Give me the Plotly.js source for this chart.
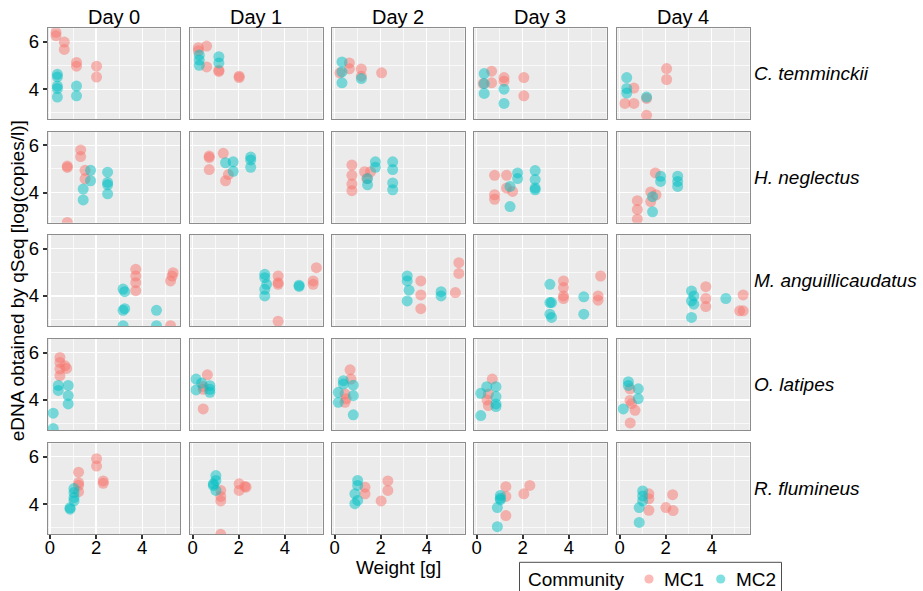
<!DOCTYPE html>
<html>
<head>
<meta charset="utf-8">
<script src="https://cdn.plot.ly/plotly-3.0.1.min.js"></script>
<style>html,body{margin:0;padding:0;background:#fff;}#chart{width:923px;height:591px;}</style>
</head>
<body>
<div id="chart"></div>
<script>
const days = ['Day 0', 'Day 1', 'Day 2', 'Day 3', 'Day 4'];
const species = ['C. temminckii', 'H. neglectus', 'M. anguillicaudatus', 'O. latipes', 'R. flumineus'];
const communities = ['MC1', 'MC2'];
const xTicks = [0, 2, 4];
const yTicks = [4, 6];

// Weight [g] and eDNA [log(copies/l)] per day (index = day)
const CT_MC1_w = [[0.26,0.26,0.62,0.62,1.15,1.15,2.02,2.02],[0.25,0.25,0.61,0.61,1.14,1.14,2.02,2.02],[0.23,0.64,0.64,1.16,1.16,2.04],[0.29,0.65,0.65,1.19,1.19,2.05,2.05],[0.23,0.62,0.62,1.17,1.17,2.04,2.04]];
const CT_MC1_e = [[6.40,6.26,5.99,5.68,5.13,4.97,4.97,4.51],[5.75,5.62,5.82,4.94,4.80,4.75,4.55,4.49],[4.69,5.11,4.86,4.85,4.55,4.69],[4.24,4.76,4.27,4.49,4.34,4.49,3.72],[3.40,4.05,3.40,3.61,2.90,4.87,4.41]];
const CT_MC2_w = [[0.32,0.32,0.32,0.32,0.32,1.15,1.15],[0.29,0.29,0.29,1.14,1.14],[0.32,0.32,0.32,1.16],[0.33,0.33,0.33,1.19,1.19],[0.31,0.31,0.31,1.17]];
const CT_MC2_e = [[4.63,4.52,4.13,4.03,3.67,4.13,3.72],[5.44,5.23,5.01,5.37,5.11],[5.15,4.73,4.27,4.45],[4.66,4.24,3.82,4.00,3.40],[4.49,4.03,3.84,3.67]];

const HN_MC1_w = [[0.75,0.75,1.33,1.33,1.52,1.52,0.75],[0.72,0.72,0.72,1.33,1.55,1.43],[0.75,0.75,0.75,0.75,1.30,1.56,1.40],[0.78,0.78,0.78,1.30,1.30,1.56],[0.77,0.77,0.77,1.35,1.58,1.35,1.55]];
const HN_MC1_e = [[5.12,5.06,5.80,5.52,4.94,4.58,2.74],[5.54,5.48,4.97,5.66,4.76,4.50],[5.16,4.73,4.36,4.08,4.88,4.88,4.59],[4.73,3.91,3.72,4.73,4.19,4.05],[3.66,3.29,2.88,4.03,3.91,3.62,4.83]];
const HN_MC2_w = [[1.76,1.76,1.44,1.44,2.50,2.50,2.50,2.50],[1.43,1.76,1.76,2.52,2.52,2.52],[1.43,1.43,1.77,1.77,2.52,2.52,2.52,2.52],[1.45,1.78,1.78,1.45,2.54,2.54,2.54,2.54],[1.43,1.43,1.78,1.78,2.52,2.52,2.52]];
const HN_MC2_e = [[4.94,4.50,4.15,3.69,4.86,4.43,4.33,3.95],[5.26,5.30,4.90,5.50,5.38,5.07],[4.59,4.33,5.30,5.07,5.30,4.97,4.41,4.12],[4.26,4.83,4.59,3.41,4.93,4.55,4.19,4.12],[3.83,3.19,4.69,4.47,4.69,4.47,4.26]];

const MA_MC1_w = [[3.72,3.72,3.72,3.72,5.34,5.30,5.23,5.23],[3.71,3.71,3.71,3.71,5.23,5.23,5.37],[3.74,3.74,3.74,5.24,5.39,5.39],[3.77,3.77,3.77,3.77,5.27,5.27,5.38],[3.74,3.74,3.74,5.36,5.21,5.36]];
const MA_MC1_e = [[5.12,4.84,4.56,4.22,4.98,4.84,4.63,2.74],[4.84,4.56,4.49,2.93,4.63,4.49,5.19],[4.63,4.04,3.46,4.14,4.95,5.40],[4.63,4.35,4.00,3.89,4.00,3.82,4.84],[4.39,3.89,3.55,4.04,3.37,3.37]];
const MA_MC2_w = [[3.17,3.24,3.17,3.24,3.17,4.62,4.62],[3.13,3.13,3.21,3.13,3.13,4.62,4.62],[3.15,3.15,3.23,3.15,4.62,4.62],[3.18,3.18,3.25,3.18,3.25,4.65,4.65],[3.12,3.12,3.22,3.22,3.12,4.61]];
const MA_MC2_e = [[4.29,4.18,3.39,3.46,2.74,3.39,2.74],[4.91,4.77,4.49,4.28,4.00,4.40,4.45],[4.84,4.63,4.24,3.79,4.18,4.00],[4.49,3.72,3.72,3.23,3.09,3.96,3.23],[4.21,3.79,4.00,3.65,3.09,3.89]];

const OL_MC1_w = [[0.43,0.43,0.43,0.43,0.65,0.72],[0.64,0.46,0.46,0.46],[0.67,0.71,0.45,0.45,0.50],[0.68,0.51,0.51,0.45],[0.45,0.45,0.52,0.67,0.46]];
const OL_MC1_e = [[5.79,5.58,5.30,5.02,5.44,5.33],[5.06,4.57,4.45,3.62],[5.27,4.88,4.25,3.90,4.05],[4.88,4.25,3.76,4.00],[4.47,3.98,3.84,3.56,3.03]];
const OL_MC2_w = [[0.36,0.36,0.79,0.79,0.79,0.14,0.14],[0.15,0.15,0.39,0.75,0.75,0.75],[0.16,0.16,0.38,0.38,0.81,0.81,0.81],[0.18,0.44,0.84,0.84,0.84,0.84,0.18],[0.38,0.38,0.81,0.81,0.16]];
const OL_MC2_e = [[4.61,4.40,4.61,4.18,3.83,3.44,2.79],[4.88,4.42,4.71,4.60,4.32,4.45],[4.32,3.90,4.81,4.67,4.62,4.18,3.37],[4.28,4.56,4.56,4.14,3.83,3.72,3.34],[4.77,4.61,4.47,4.05,3.62]];

const RF_MC1_w = [[2.02,2.02,1.24,1.24,1.24,1.24,2.31,2.31],[1.22,1.22,1.22,2.02,2.02,2.27,2.32,1.22],[1.32,1.32,2.02,2.31,2.31],[1.27,1.27,1.27,2.05,2.31],[1.27,1.27,1.27,2.30,2.01,2.32]];
const RF_MC1_e = [[5.92,5.61,5.35,4.91,4.80,4.53,4.98,4.88],[4.58,4.33,4.14,4.86,4.58,4.75,4.72,2.73],[4.72,4.44,4.14,4.98,4.58],[4.74,4.33,3.52,4.44,4.79],[4.44,4.23,3.74,4.40,3.86,3.73]];
const RF_MC2_w = [[1.04,1.04,1.04,1.04,0.87,0.87],[1.01,1.01,0.90,0.90,1.01],[1.00,1.00,0.88,1.00,0.88],[1.03,1.03,1.03,0.90,0.90],[1.00,1.00,1.00,0.85,0.85]];
const RF_MC2_e = [[4.66,4.49,4.28,4.14,3.79,3.85],[5.21,5.00,4.86,4.79,4.58],[5.00,4.79,4.44,4.16,4.02],[4.37,4.25,4.18,3.86,3.05],[4.56,4.35,4.14,3.86,3.23]];

const seriesBySpecies = [
  [[CT_MC1_w, CT_MC1_e], [CT_MC2_w, CT_MC2_e]],
  [[HN_MC1_w, HN_MC1_e], [HN_MC2_w, HN_MC2_e]],
  [[MA_MC1_w, MA_MC1_e], [MA_MC2_w, MA_MC2_e]],
  [[OL_MC1_w, OL_MC1_e], [OL_MC2_w, OL_MC2_e]],
  [[RF_MC1_w, RF_MC1_e], [RF_MC2_w, RF_MC2_e]]
];

const colors = ['#F8766D', '#00BFC4'];
const W = 923, H = 591;
const colLeft = [47.7, 190.3, 332.3, 474.3, 617.3];
const panelW = 132.3;
const rowTop = [28.3, 131.7, 235.0, 339.0, 443.3];
const panelH = 91.0;
const FS = 19;
const TXT = '#000000';

const traces = [];
const layout = {
  width: W, height: H,
  margin: {l: 0, r: 0, t: 0, b: 0, autoexpand: false},
  paper_bgcolor: '#ffffff',
  plot_bgcolor: '#EBEBEB',
  font: {family: 'Liberation Sans, Arial, sans-serif', color: TXT, size: FS},
  showlegend: false,
  annotations: [],
  shapes: [{
    type: 'rect', xref: 'paper', yref: 'paper', layer: 'below',
    x0: 519.5 / W, x1: 781.5 / W, y0: 1 - 600 / H, y1: 1 - 562.3 / H,
    line: {color: '#4d4d4d', width: 1}, fillcolor: '#ffffff'
  }]
};

// Legend (manual, ggplot style)
const legY = 579;
layout.annotations.push({
  xref: 'paper', yref: 'paper', x: 525.5 / W, y: 1 - legY / H,
  text: 'Community', showarrow: false, xanchor: 'left', yanchor: 'middle',
  font: {size: FS, color: TXT}
});
const keyX = [649, 720.7];
const labX = [662, 734];
for (let m = 0; m < 2; m++) {
  const rr = 4.6;
  layout.shapes.push({
    type: 'circle', xref: 'paper', yref: 'paper',
    x0: (keyX[m] - rr) / W, x1: (keyX[m] + rr) / W,
    y0: 1 - (legY + rr) / H, y1: 1 - (legY - rr) / H,
    fillcolor: colors[m], opacity: 0.5, line: {width: 0}
  });
  layout.annotations.push({
    xref: 'paper', yref: 'paper', x: labX[m] / W, y: 1 - legY / H,
    text: communities[m], showarrow: false, xanchor: 'left', yanchor: 'middle',
    font: {size: FS, color: TXT}
  });
}

for (let r = 0; r < 5; r++) {
  for (let c = 0; c < 5; c++) {
    const k = r * 5 + c + 1;
    const xs = k === 1 ? 'x' : 'x' + k;
    const ys = k === 1 ? 'y' : 'y' + k;
    for (let m = 0; m < 2; m++) {
      const [wArr, eArr] = seriesBySpecies[r][m];
      traces.push({
        type: 'scatter', mode: 'markers',
        x: wArr[c], y: eArr[c],
        xaxis: xs, yaxis: ys,
        name: communities[m], legendgroup: communities[m],
        showlegend: false,
        marker: {color: colors[m], size: 11, opacity: 0.5, line: {width: 0}},
        hoverinfo: 'skip'
      });
    }
    const xDom = [colLeft[c] / W, (colLeft[c] + panelW) / W];
    const yDom = [1 - (rowTop[r] + panelH) / H, 1 - rowTop[r] / H];
    const xName = k === 1 ? 'xaxis' : 'xaxis' + k;
    const yName = k === 1 ? 'yaxis' : 'yaxis' + k;
    layout[xName] = {
      domain: xDom, anchor: ys, range: [-0.1, 5.64],
      tickmode: 'array', tickvals: xTicks, ticktext: xTicks.map(String),
      showgrid: true, gridcolor: '#ffffff', gridwidth: 1.3,
      minor: {tickmode: 'array', tickvals: [1, 3, 5], showgrid: true, gridcolor: '#ffffff', gridwidth: 0.7},
      zeroline: false, showline: true, mirror: true, linecolor: '#8c8c8c', linewidth: 1,
      ticks: r === 4 ? 'outside' : '', ticklen: 4, tickwidth: 2, tickcolor: '#333333',
      ticklabelstandoff: -8,
      showticklabels: r === 4, tickfont: {size: 18.5, color: TXT},
      fixedrange: true
    };
    layout[yName] = {
      domain: yDom, anchor: xs, range: [2.73, 6.57],
      tickmode: 'array', tickvals: yTicks, ticktext: yTicks.map(String),
      showgrid: true, gridcolor: '#ffffff', gridwidth: 1.3,
      minor: {tickmode: 'array', tickvals: [3, 5], showgrid: true, gridcolor: '#ffffff', gridwidth: 0.7},
      zeroline: false, showline: true, mirror: true, linecolor: '#8c8c8c', linewidth: 1,
      ticks: c === 0 ? 'outside' : '', ticklen: 4, tickwidth: 2, tickcolor: '#333333',
      showticklabels: c === 0, tickfont: {size: 18.5, color: TXT},
      fixedrange: true
    };
  }
}

// Column strip labels (days)
for (let c = 0; c < 5; c++) {
  layout.annotations.push({
    xref: 'paper', yref: 'paper',
    x: (colLeft[c] + panelW / 2) / W, y: 1 - 17 / H,
    text: days[c], showarrow: false, xanchor: 'center', yanchor: 'middle',
    font: {size: FS + 1, color: TXT}
  });
}
// Row strip labels (species, italic)
for (let r = 0; r < 5; r++) {
  layout.annotations.push({
    xref: 'paper', yref: 'paper',
    x: 752 / W, y: 1 - (rowTop[r] + panelH / 2) / H,
    text: '<i>' + species[r] + '</i>', showarrow: false, xanchor: 'left', yanchor: 'middle',
    font: {size: FS, color: TXT}
  });
}
// Axis titles
layout.annotations.push({
  xref: 'paper', yref: 'paper',
  x: (colLeft[0] + colLeft[4] + panelW) / 2 / W, y: 1 - 567.5 / H,
  text: 'Weight [g]', showarrow: false, xanchor: 'center', yanchor: 'middle',
  font: {size: FS, color: TXT}
});
layout.annotations.push({
  xref: 'paper', yref: 'paper',
  x: 17 / W, y: 1 - (rowTop[0] + rowTop[4] + panelH) / 2 / H,
  text: 'eDNA obtained by qSeq [log(copies/l)]', showarrow: false, textangle: -90,
  xanchor: 'center', yanchor: 'middle',
  font: {size: FS, color: TXT}
});

Plotly.newPlot('chart', traces, layout, {staticPlot: true, displayModeBar: false});
</script>
</body>
</html>
